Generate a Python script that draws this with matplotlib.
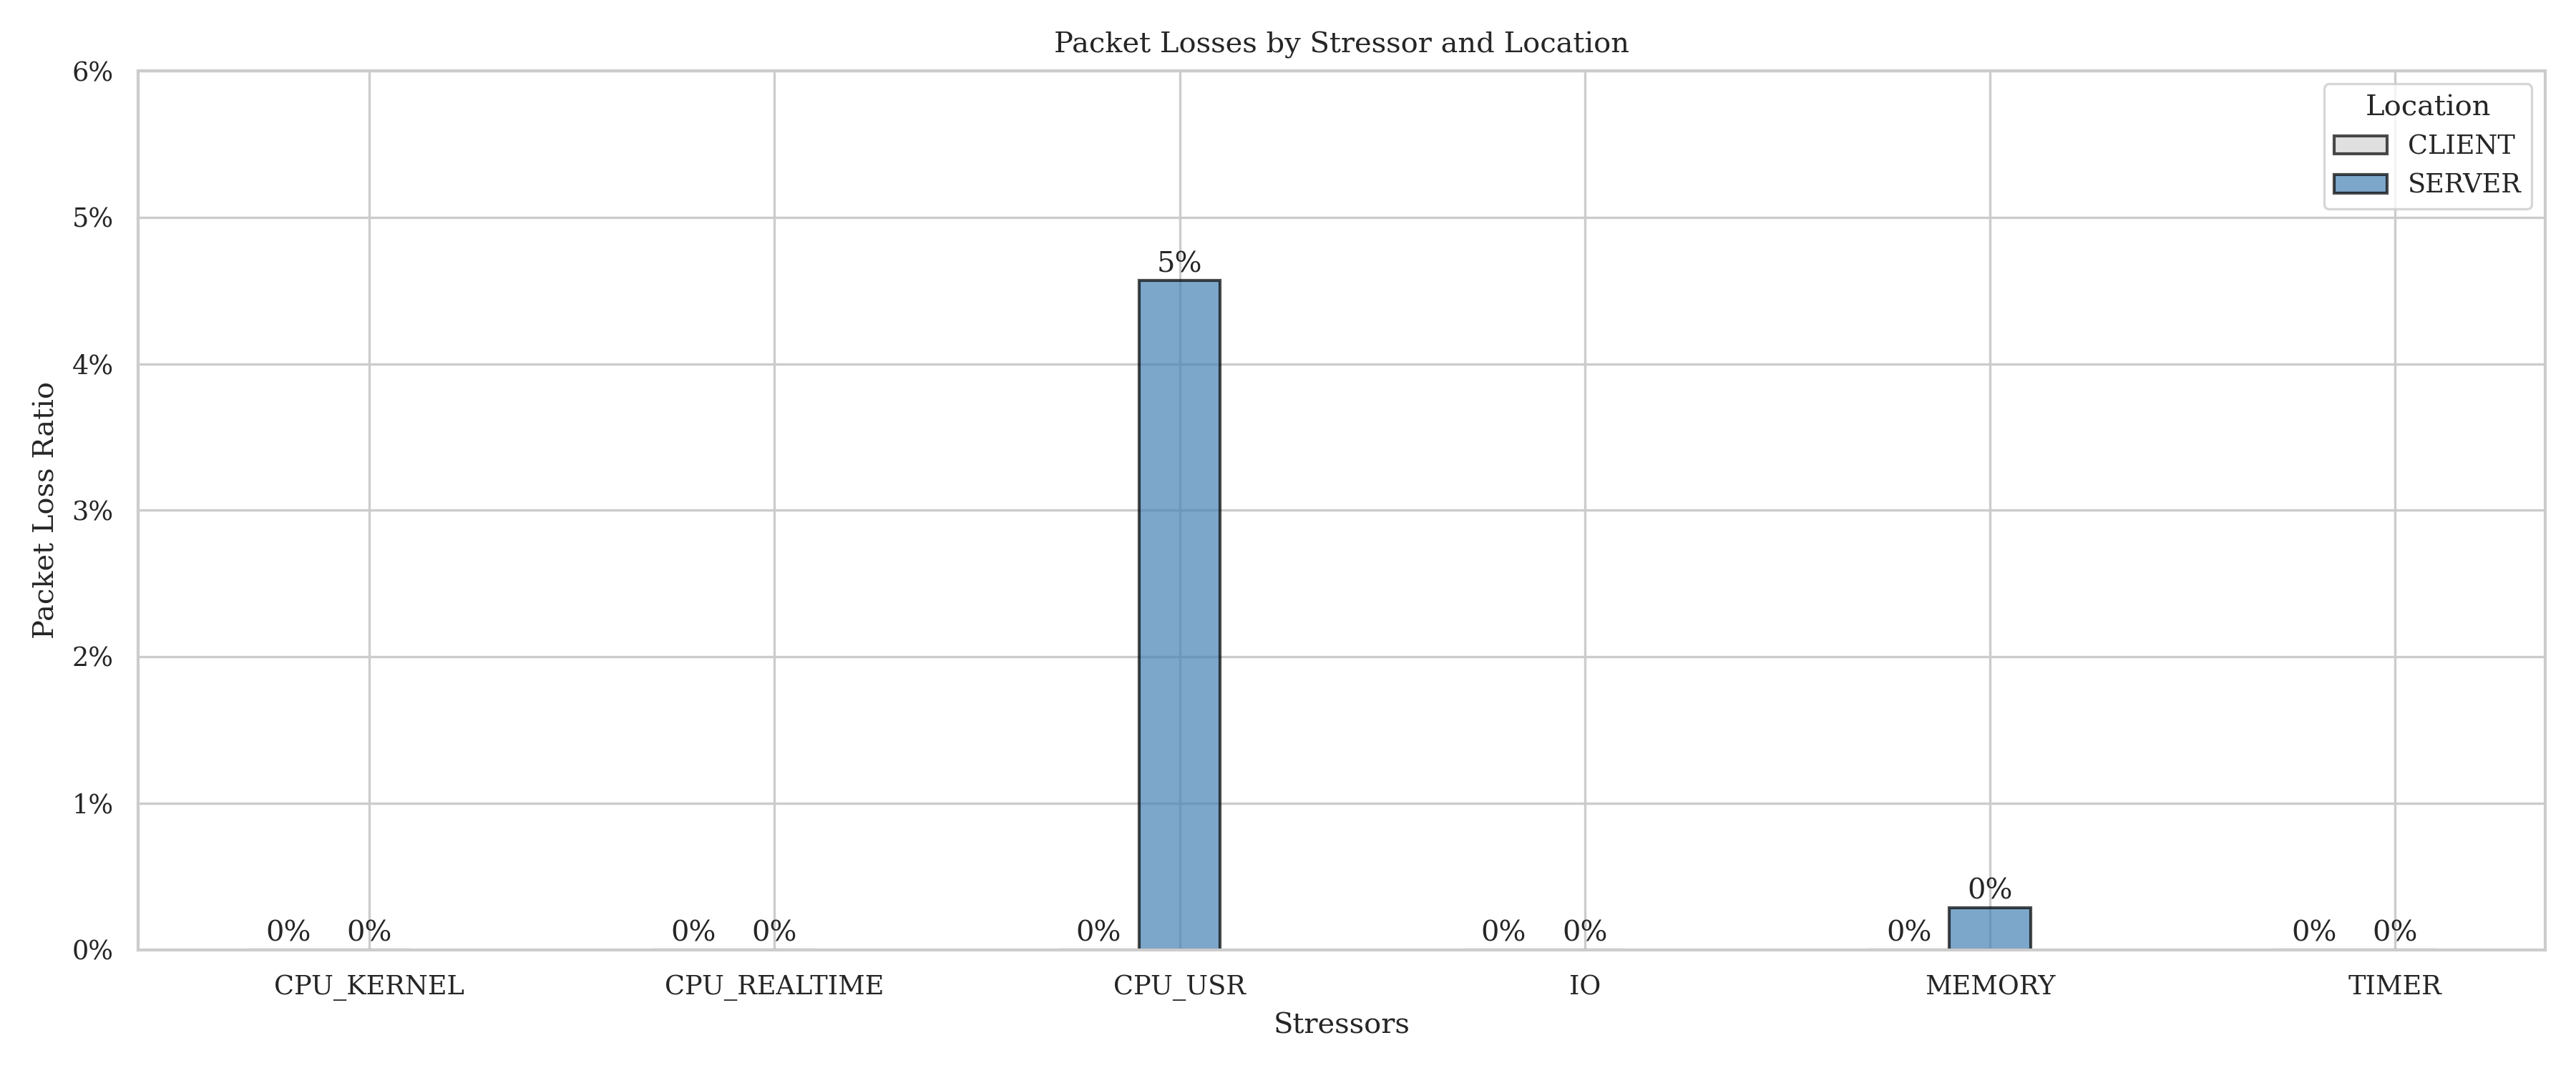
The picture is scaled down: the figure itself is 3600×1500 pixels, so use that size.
import numpy as np
import matplotlib
matplotlib.use("Agg")
import matplotlib.pyplot as plt
import seaborn as sns
from matplotlib.ticker import PercentFormatter

stressors = ["CPU_KERNEL", "CPU_REALTIME", "CPU_USR", "IO", "MEMORY", "TIMER"]
client_loss = [0.0, 0.0, 0.0, 0.0, 0.0, 0.0]
server_loss = [0.0, 0.0, 0.04568, 0.0, 0.00288, 0.0]

sns.set_theme(context="paper", style="whitegrid", font="serif")
plt.rcParams['font.family'] = ['DejaVu Serif']

fig, ax = plt.subplots(figsize=(12, 5), dpi=300)
fig.subplots_adjust(left=0.0537, right=0.988, top=0.934, bottom=0.115)

x = np.arange(len(stressors))
width = 0.2

client_bars = ax.bar(x - width, client_loss, width, label="CLIENT", color="lightgrey",
                     edgecolor="black", alpha=0.7, linewidth=1)
server_bars = ax.bar(x, server_loss, width, label="SERVER", color="steelblue",
                     edgecolor="black", alpha=0.7, linewidth=1)

# percentage labels on top of every bar
for bars in (client_bars, server_bars):
    ax.bar_label(bars, labels=[f"{v:.0%}" for v in bars.datavalues], padding=1, fontsize=9.6)

ax.set_xticks(x)
ax.set_xticklabels(stressors)
ax.set_ylim(0, 0.06)
ax.yaxis.set_major_formatter(PercentFormatter(1.0, decimals=0))

ax.set_title("Packet Losses by Stressor and Location")
ax.set_xlabel("Stressors")
ax.set_ylabel("Packet Loss Ratio")
ax.legend(title="Location", loc="upper right")

fig.savefig("out.png", dpi=300)
